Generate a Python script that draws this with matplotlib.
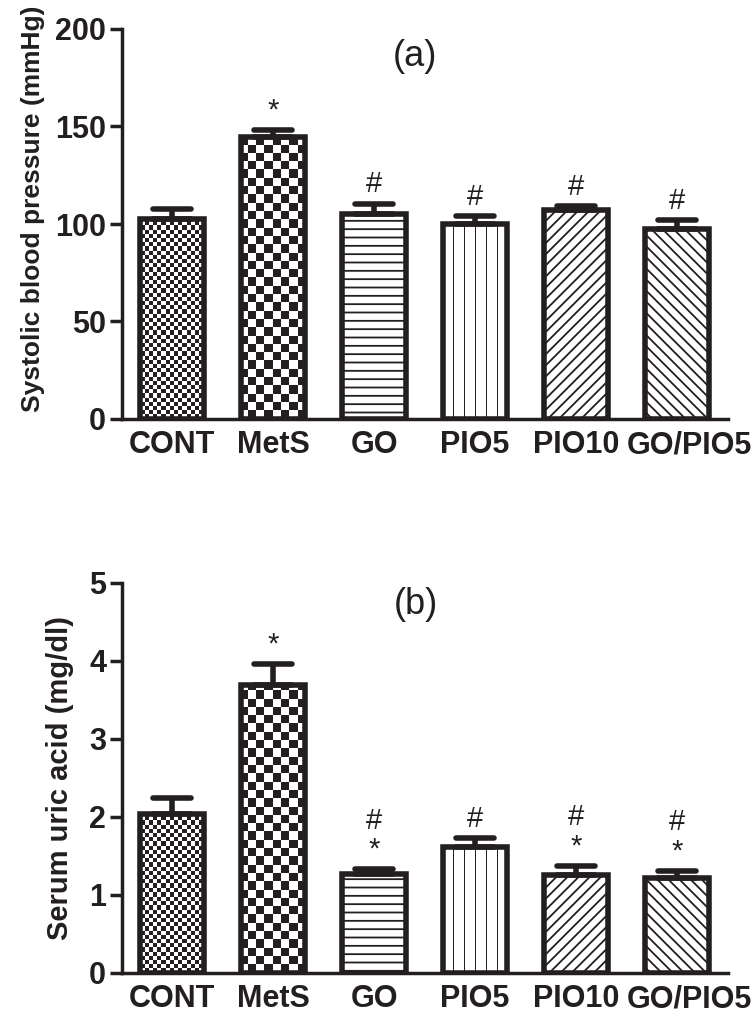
import numpy as np
import matplotlib
matplotlib.use('Agg')
import matplotlib.pyplot as plt
from matplotlib.colors import ListedColormap
from matplotlib.markers import MarkerStyle
from matplotlib.transforms import ScaledTranslation

# ---------------- data ----------------
categories = ['CONT', 'MetS', 'GO', 'PIO5', 'PIO10', 'GO/PIO5']

sbp_mean = [102.5, 144.5, 105.0, 100.0, 107.0, 97.5]
sbp_sem = [5.0, 3.6, 5.5, 4.0, 2.0, 4.5]
sbp_marks = [[], ['*'], ['#'], ['#'], ['#'], ['#']]

ua_mean = [2.04, 3.69, 1.27, 1.62, 1.26, 1.22]
ua_sem = [0.21, 0.27, 0.06, 0.11, 0.11, 0.09]
ua_marks = [[], ['*'], ['*', '#'], ['#'], ['*', '#'], ['*', '#']]

patterns = ['fine_checker', 'checker', '--', 'vstripes', '///', '\\\\\\']

# ---------------- style ----------------
INK = '#231f20'
FONT = 'Liberation Sans'
plt.rcParams['font.family'] = [FONT, 'DejaVu Sans']
plt.rcParams['hatch.color'] = INK
plt.rcParams['hatch.linewidth'] = 1.3

fig = plt.figure(figsize=(7.54, 10.16), dpi=100)
W_PX, H_PX = 754, 1016


def axes_rect(left, right, top, bottom):
    return [left / W_PX, 1 - bottom / H_PX, (right - left) / W_PX, (bottom - top) / H_PX]


def fill_pattern(ax, bar, kind):
    x0, y0 = bar.get_x(), bar.get_y()
    w, h = bar.get_width(), bar.get_height()
    (px0, py0), (px1, py1) = ax.transData.transform([(x0, y0), (x0 + w, y0 + h)])
    W = max(int(round(px1 - px0)), 1)
    H = max(int(round(py1 - py0)), 1)
    xs = np.arange(W)[None, :].astype(float)
    ys = np.arange(H)[:, None].astype(float)
    if kind == 'fine_checker':
        s = 4.2
        arr = ((np.floor(xs / s) + np.floor(ys / s)) % 2) * np.ones((H, W))
    elif kind == 'checker':
        s = 8.3
        arr = ((np.floor((xs + 2) / s) + np.floor(ys / s)) % 2) * np.ones((H, W))
    elif kind == 'vstripes':
        period = 11.0
        dd = np.abs(((xs + 0.5 - W / 2.0) + period / 2) % period - period / 2)
        arr = (dd < 1.0).astype(float) * np.ones((H, W))
    else:
        return
    cmap = ListedColormap(['white', INK])
    im = ax.imshow(arr, extent=(x0, x0 + w, y0, y0 + h), origin='lower', cmap=cmap,
                   vmin=0, vmax=1, interpolation='nearest', aspect='auto', zorder=2)
    im.set_clip_path(bar)


def panel(rect, means, sems, marks, ylim, yticks, ylabel, ylabel_size, label_xy, tag):
    ax = fig.add_axes(rect)
    x = np.arange(len(categories))
    ax.set_xlim(-0.5, len(categories) - 0.5)
    ax.set_ylim(*ylim)
    bars = []
    for i, (m, pat) in enumerate(zip(means, patterns)):
        if pat in ('fine_checker', 'checker', 'vstripes'):
            b = ax.bar(x[i], m, width=0.64, facecolor='none', edgecolor=INK,
                       linewidth=4, zorder=3)[0]
        else:
            b = ax.bar(x[i], m, width=0.64, facecolor='white', edgecolor=INK,
                       linewidth=4, hatch=pat, zorder=3)[0]
        bars.append(b)
    for b, pat in zip(bars, patterns):
        fill_pattern(ax, b, pat)
    ax.set_xlim(-0.5, len(categories) - 0.5)
    ax.set_ylim(*ylim)

    eb = ax.errorbar(x, means, yerr=[np.zeros(len(means)), sems], fmt='none',
                     ecolor=INK, elinewidth=4, capsize=14, capthick=4, zorder=4)
    for cl in eb[1]:
        cl.set_marker(MarkerStyle('_', capstyle='round'))

    for i, (m, e, mk) in enumerate(zip(means, sems, marks)):
        for k, sym in enumerate(mk):
            ax.annotate(sym, xy=(x[i], m + e), xytext=(0, 8.3 + 21 * k),
                        textcoords='offset points', ha='center', va='baseline',
                        fontsize=21, color=INK, family=FONT)

    for s in ('top', 'right'):
        ax.spines[s].set_visible(False)
    for s in ('left', 'bottom'):
        ax.spines[s].set_linewidth(2.5)
        ax.spines[s].set_color(INK)
    ax.set_yticks(yticks)
    ax.set_yticklabels([str(t) for t in yticks])
    ax.set_xticks(x)
    ax.set_xticklabels(categories)
    ax.tick_params(axis='y', length=9, width=2.5, color=INK, pad=2, labelsize=22)
    ax.tick_params(axis='x', length=0, pad=8, labelsize=22)
    for lab in ax.get_xticklabels() + ax.get_yticklabels():
        lab.set_fontweight('bold')
        lab.set_color(INK)
    last = ax.get_xticklabels()[-1]
    last.set_transform(last.get_transform() + ScaledTranslation(0.12, 0, fig.dpi_scale_trans))
    ax.set_ylabel(ylabel, fontsize=ylabel_size, fontweight='bold', color=INK)
    ax.yaxis.set_label_coords(*label_xy)
    ax.text(0.485, tag[1], tag[0], transform=ax.transAxes, ha='center', va='center',
            fontsize=26, color=INK)
    return ax


panel(axes_rect(121.5, 727.5, 29, 419), sbp_mean, sbp_sem, sbp_marks, (0, 200),
      [0, 50, 100, 150, 200], 'Systolic blood pressure (mmHg)', 19,
      (-0.127, 0.54), ('(a)', 0.929))
panel(axes_rect(121.5, 727.5, 583, 973), ua_mean, ua_sem, ua_marks, (0, 5),
      [0, 1, 2, 3, 4, 5], 'Serum uric acid (mg/dl)', 21,
      (-0.078, 0.50), ('(b)', 0.944))

fig.savefig('out.png', dpi=100, facecolor='white')
